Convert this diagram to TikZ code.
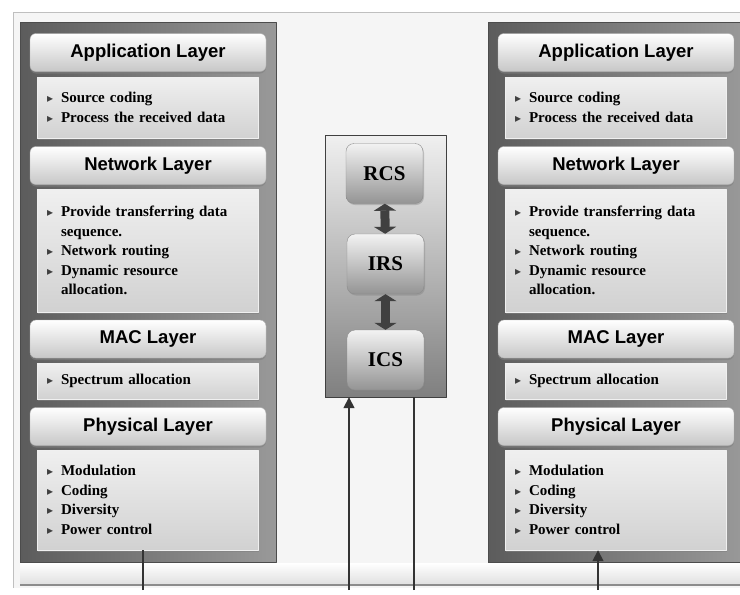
\documentclass[tikz,border=0pt]{standalone}
\usepackage{fontspec}
\setmainfont{Liberation Serif}
\setsansfont{Liberation Sans}
\newfontfamily\symfont{DejaVu Sans}
\usetikzlibrary{arrows.meta,shadows}

\newcommand\itm{\makebox[14pt][l]{\symfont\fontsize{12}{12}\selectfont\color{black!75}▸}}
\newcommand\cont{\hspace*{14pt}}

\begin{document}
\begin{tikzpicture}[x=1pt, y=-1pt, line join=round,
	stack/.style={draw=black!70, left color=black!64, right color=black!40, minimum width=256pt, minimum height=540pt},
	layerhead/.style={rounded corners=6pt, draw=black!30, top color=white, bottom color=black!22, minimum width=236pt, minimum height=38pt, font=\sffamily\bfseries\fontsize{18.5}{20}\selectfont, drop shadow={shadow xshift=0pt, shadow yshift=-2pt, opacity=.6}},
	layerbody/.style={draw=black!6, top color=black!6, bottom color=black!18, text width=201pt, inner xsep=10pt, inner ysep=2pt, align=left, font=\bfseries\fontsize{15}{19.5}\selectfont, drop shadow={shadow xshift=1pt, shadow yshift=-2pt, opacity=.6}},
	midbox/.style={draw=black!75, top color=black!6, bottom color=black!50, minimum width=121pt, minimum height=262pt},
	ctrl/.style={rounded corners=8pt, draw=black!45, top color=black!5, bottom color=black!42, minimum width=77pt, minimum height=60pt, font=\bfseries\fontsize{21}{24}\selectfont, drop shadow={shadow xshift=1pt, shadow yshift=-1.5pt, opacity=.4}},
	dbl/.style={{Triangle[length=7pt,width=22pt]}-{Triangle[length=7pt,width=22pt]}, line width=9pt, black!75},
	wire/.style={line width=1.6pt, black!80},
	arr/.style={wire, -{Triangle[length=11pt,width=11pt]}}]
	\useasboundingbox (0,0) rectangle (740,595);
	% frame
	\fill[black!4] (13,12) rectangle (745,588);
	\draw[black!25] (13,588)--(13,12)--(745,12);
	\shade[top color=white, bottom color=black!12] (20,563) rectangle (745,584);
	\draw[black!45, line width=2pt] (20,585)--(745,585);
	% both protocol stacks
	\foreach \s/\dx in {l/0, r/468}{
		\node[stack] (\s-stack) at (148+\dx,292) {};
		\node[layerhead] (\s-apph) at (148+\dx,52.5) {Application Layer};
		\node[layerbody, minimum height=61pt] (\s-app) at (147.5+\dx,107.5)
			{\itm Source coding\\ \itm Process the received data};
		\node[layerhead] (\s-neth) at (148+\dx,165.5) {Network Layer};
		\node[layerbody, minimum height=123pt] (\s-net) at (147.5+\dx,250.5)
			{\itm Provide transferring data\\ \cont sequence.\\ \itm Network routing\\ \itm Dynamic resource\\ \cont allocation.};
		\node[layerhead] (\s-mach) at (148+\dx,339) {MAC Layer};
		\node[layerbody, minimum height=36pt] (\s-mac) at (147.5+\dx,381)
			{\itm Spectrum allocation};
		\node[layerhead] (\s-physh) at (148+\dx,426.5) {Physical Layer};
		\node[layerbody, minimum height=100pt] (\s-phys) at (147.5+\dx,500)
			{\itm Modulation\\ \itm Coding\\ \itm Diversity\\ \itm Power control};
	}
	% control column
	\node[midbox] (mid) at (385.5,266) {};
	\node[ctrl] (rcs) at (384.5,173.5) {RCS};
	\node[ctrl] (irs) at (385.5,264) {IRS};
	\node[ctrl] (ics) at (385.5,360) {ICS};
	\draw[dbl] (rcs)--(irs);
	\draw[dbl] (irs)--(ics);
	% links
	\coordinate (lbot) at (143,590);
	\coordinate (mbotl) at (349,590);
	\coordinate (mbotr) at (414,590);
	\coordinate (rbot) at (598,590);
	\draw[wire] (lbot)--(lbot |- l-phys.south);
	\draw[arr] (mbotl)--(mbotl |- mid.south);
	\draw[wire] (mbotr)--(mbotr |- mid.south);
	\draw[arr] (rbot)--(rbot |- r-phys.south);
\end{tikzpicture}
\end{document}
